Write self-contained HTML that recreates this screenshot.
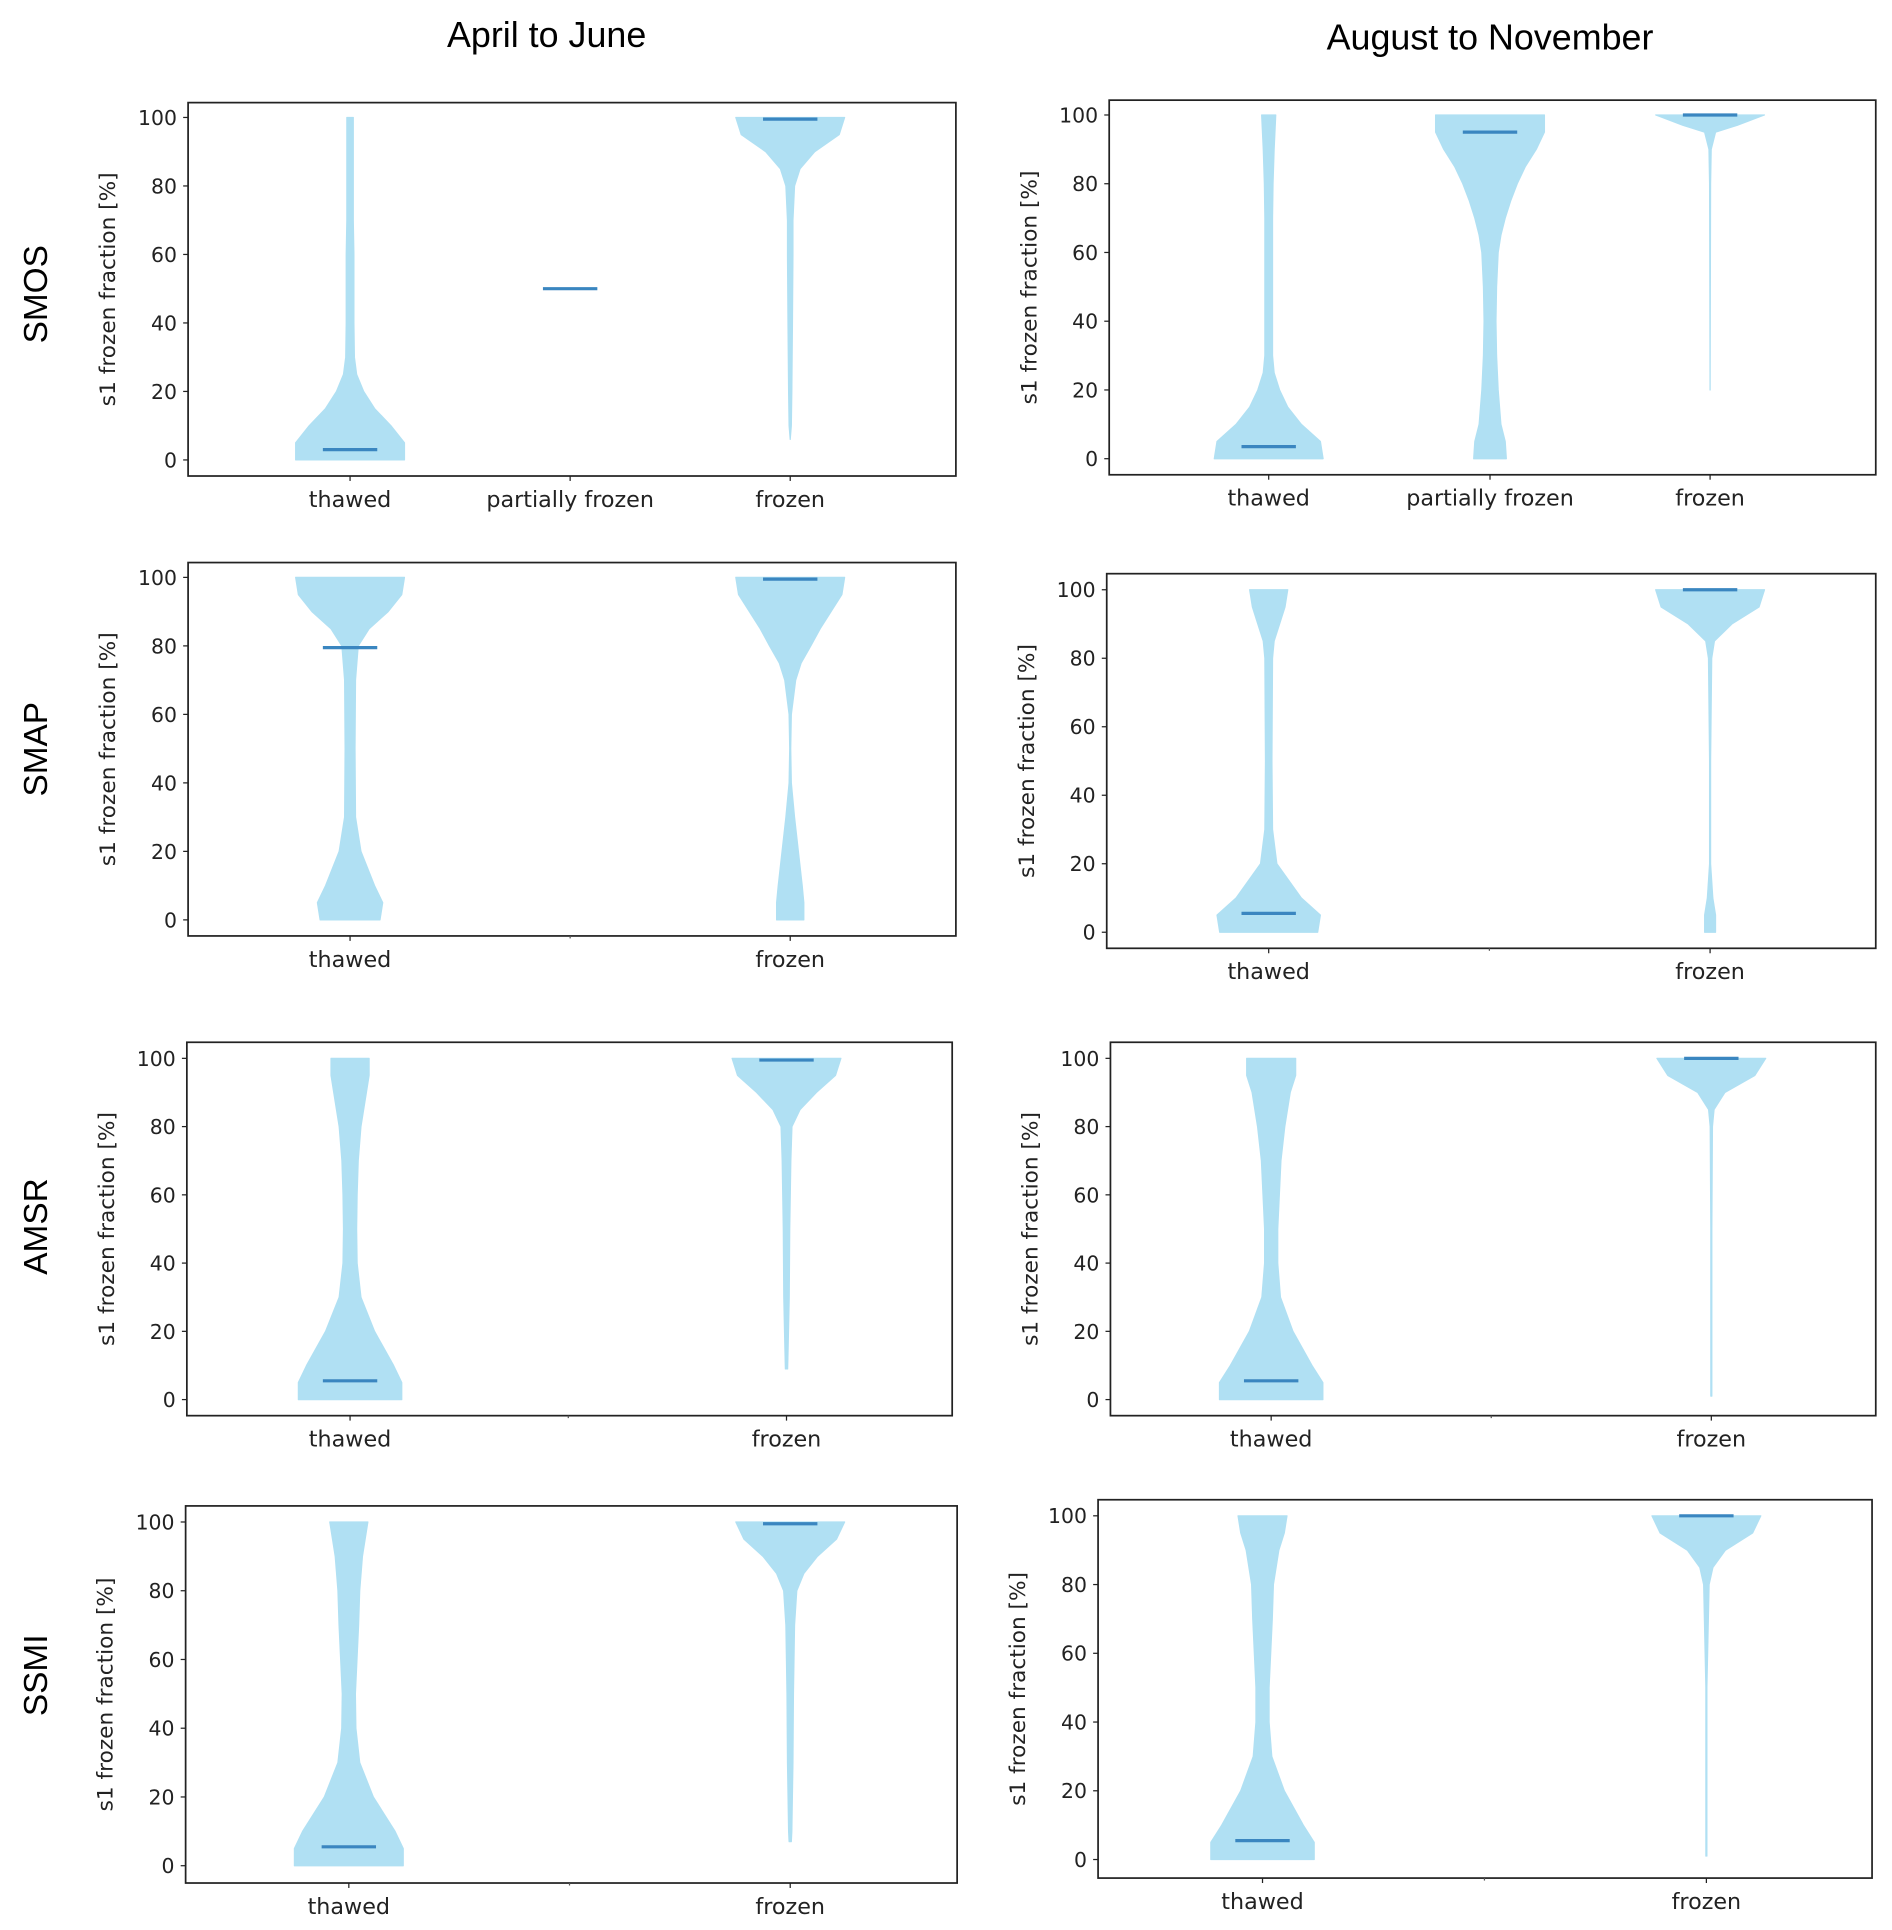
<!DOCTYPE html>
<html><head><meta charset="utf-8">
<style>
html,body{margin:0;padding:0;background:#fff;}
svg{display:block;font-family:"DejaVu Sans","Liberation Sans",sans-serif;}
.big{font-family:"Liberation Sans","DejaVu Sans",sans-serif;}
</style></head>
<body>
<svg id="chart" width="1892" height="1930" viewBox="0 0 1530 1561" xmlns="http://www.w3.org/2000/svg">
<text class="big" x="442" y="38" font-size="29" text-anchor="middle" fill="#000">April to June</text>
<text class="big" x="1205" y="40" font-size="29" text-anchor="middle" fill="#000">August to November</text>
<text class="big" transform="translate(38,238) rotate(-90)" font-size="27" text-anchor="middle">SMOS</text>
<text class="big" transform="translate(38,606) rotate(-90)" font-size="27" text-anchor="middle">SMAP</text>
<text class="big" transform="translate(38,992) rotate(-90)" font-size="27" text-anchor="middle">AMSR</text>
<text class="big" transform="translate(38,1355) rotate(-90)" font-size="27" text-anchor="middle">SSMI</text>
</svg>
<script>
// ---- data ----
const yTicks = [0, 20, 40, 60, 80, 100];
const catsThree = ["thawed", "partially frozen", "frozen"];
const catsTwo = ["thawed", "frozen"];

const smosAprThawedV = [0,5,10,15,20,25,30,40,50,60,70,80,90,100];
const smosAprThawedW = [1,1,0.75,0.45,0.25,0.12,0.08,0.07,0.07,0.07,0.06,0.06,0.06,0.06];
const smosAprFrozenV = [6,10,20,40,60,70,80,85,90,95,100];
const smosAprFrozenW = [0,0.02,0.03,0.04,0.05,0.05,0.08,0.18,0.45,0.9,1];
const smosAprMedians = [3, 50, 99.5];

const smosAugThawedV = [0,5,10,15,20,25,30,40,50,60,70,80,90,100];
const smosAugThawedW = [1,0.95,0.6,0.35,0.2,0.1,0.07,0.07,0.07,0.07,0.07,0.08,0.1,0.13];
const smosAugPartialV = [0,5,10,20,30,40,50,60,65,70,75,80,85,90,95,100];
const smosAugPartialW = [0.3,0.28,0.2,0.15,0.12,0.11,0.12,0.15,0.2,0.28,0.38,0.5,0.65,0.85,1,1];
const smosAugFrozenV = [20,50,80,90,95,97,100];
const smosAugFrozenW = [0,0.005,0.01,0.02,0.1,0.5,1];
const smosAugMedians = [3.5, 95, 100];

const smapAprThawedV = [0,5,10,20,30,50,70,80,85,90,95,100];
const smapAprThawedW = [0.55,0.6,0.45,0.2,0.1,0.09,0.1,0.15,0.35,0.7,0.95,1];
const smapAprFrozenV = [0,5,10,20,30,40,50,60,70,75,80,85,90,95,100];
const smapAprFrozenW = [0.25,0.25,0.22,0.15,0.08,0.02,0.01,0.02,0.1,0.2,0.38,0.55,0.75,0.95,1];
const smapAprMedians = [79.5, 99.5];

const smapAugThawedV = [0,5,10,20,30,50,80,85,90,95,100];
const smapAugThawedW = [0.9,0.95,0.6,0.15,0.07,0.06,0.07,0.1,0.2,0.3,0.35];
const smapAugFrozenV = [0,5,10,20,50,80,85,90,95,100];
const smapAugFrozenW = [0.1,0.1,0.05,0.01,0.01,0.03,0.08,0.4,0.9,1];
const smapAugMedians = [5.5, 100];

const amsrAprThawedV = [0,5,10,20,30,40,50,60,70,80,90,95,100];
const amsrAprThawedW = [0.95,0.95,0.8,0.45,0.2,0.13,0.12,0.13,0.15,0.2,0.3,0.35,0.35];
const amsrAprFrozenV = [9,15,30,50,70,80,85,90,95,100];
const amsrAprFrozenW = [0.02,0.03,0.05,0.06,0.08,0.1,0.25,0.55,0.9,1];
const amsrAprMedians = [5.5, 99.5];

const amsrAugThawedV = [0,5,10,20,30,40,50,60,70,80,90,95,100];
const amsrAugThawedW = [0.95,0.95,0.75,0.4,0.17,0.12,0.12,0.15,0.18,0.25,0.35,0.45,0.45];
const amsrAugFrozenV = [1,50,80,85,90,95,100];
const amsrAugFrozenW = [0.01,0.01,0.02,0.05,0.25,0.8,1];
const amsrAugMedians = [5.5, 100];

const ssmiAprThawedV = [0,5,10,20,30,40,50,60,70,80,90,95,100];
const ssmiAprThawedW = [1,1,0.85,0.45,0.2,0.13,0.12,0.15,0.18,0.2,0.25,0.3,0.35];
const ssmiAprFrozenV = [7,10,30,50,70,80,85,90,95,100];
const ssmiAprFrozenW = [0.02,0.03,0.05,0.06,0.08,0.12,0.25,0.5,0.85,1];
const ssmiAprMedians = [5.5, 99.5];

const ssmiAugThawedV = [0,5,10,20,30,40,50,60,70,80,90,95,100];
const ssmiAugThawedW = [0.95,0.95,0.75,0.4,0.17,0.12,0.12,0.15,0.18,0.2,0.3,0.4,0.45];
const ssmiAugFrozenV = [1,50,80,85,90,95,100];
const ssmiAugFrozenW = [0.01,0.01,0.05,0.12,0.35,0.85,1];
const ssmiAugMedians = [5.5, 100];

// ---- layout (positions only) ----
const panels = [
 {name:"smos-april-june", l:152,r:773,t:83,b:385,y100:95,y0:372,xs:[283,461,639],cats:catsThree,
  violins:[[smosAprThawedV,smosAprThawedW],null,[smosAprFrozenV,smosAprFrozenW]],med:smosAprMedians},
 {name:"smos-aug-nov", l:897,r:1517,t:81,b:384,y100:93,y0:371,xs:[1026,1205,1383],cats:catsThree,
  violins:[[smosAugThawedV,smosAugThawedW],[smosAugPartialV,smosAugPartialW],[smosAugFrozenV,smosAugFrozenW]],med:smosAugMedians},
 {name:"smap-april-june", l:152,r:773,t:455,b:757,y100:467,y0:744,xs:[283,639],cats:catsTwo,
  violins:[[smapAprThawedV,smapAprThawedW],[smapAprFrozenV,smapAprFrozenW]],med:smapAprMedians},
 {name:"smap-aug-nov", l:895,r:1517,t:464,b:767,y100:477,y0:754,xs:[1026,1383],cats:catsTwo,
  violins:[[smapAugThawedV,smapAugThawedW],[smapAugFrozenV,smapAugFrozenW]],med:smapAugMedians},
 {name:"amsr-april-june", l:151,r:770,t:843,b:1145,y100:856,y0:1132,xs:[283,636],cats:catsTwo,
  violins:[[amsrAprThawedV,amsrAprThawedW],[amsrAprFrozenV,amsrAprFrozenW]],med:amsrAprMedians},
 {name:"amsr-aug-nov", l:898,r:1517,t:843,b:1145,y100:856,y0:1132,xs:[1028,1384],cats:catsTwo,
  violins:[[amsrAugThawedV,amsrAugThawedW],[amsrAugFrozenV,amsrAugFrozenW]],med:amsrAugMedians},
 {name:"ssmi-april-june", l:150,r:774,t:1218,b:1523,y100:1231,y0:1509,xs:[282,639],cats:catsTwo,
  violins:[[ssmiAprThawedV,ssmiAprThawedW],[ssmiAprFrozenV,ssmiAprFrozenW]],med:ssmiAprMedians},
 {name:"ssmi-aug-nov", l:888,r:1514,t:1213,b:1519,y100:1226,y0:1504,xs:[1021,1380],cats:catsTwo,
  violins:[[ssmiAugThawedV,ssmiAugThawedW],[ssmiAugFrozenV,ssmiAugFrozenW]],med:ssmiAugMedians}
];
const NS = "http://www.w3.org/2000/svg";
const svg = document.getElementById("chart");
const HALF = 44, MEDHALF = 22;
function mk(tag, attrs, parent){ const e=document.createElementNS(NS,tag); for(const k in attrs) e.setAttribute(k,attrs[k]); parent.appendChild(e); return e; }

panels.forEach(p=>{
  const g = mk("g",{},svg);
  
  
  const yScale = v => p.y0 + (p.y100 - p.y0) * v / 100;
  p.violins.forEach((vw,i)=>{
    if(!vw) return;
    const [vals, ws] = vw, cx = p.xs[i];
    let d = "";
    for(let k=0;k<vals.length;k++) d += (k?"L":"M") + (cx - ws[k]*HALF).toFixed(1) + "," + yScale(vals[k]).toFixed(1);
    for(let k=vals.length-1;k>=0;k--) d += "L" + (cx + ws[k]*HALF).toFixed(1) + "," + yScale(vals[k]).toFixed(1);
    d += "Z";
    const path = mk("path",{d:d, fill:"#b0e0f3", stroke:"#b0e0f3", "stroke-width":1, "stroke-linejoin":"round"}, g);
    
    
  });
  p.med.forEach((m,i)=>{
    const y = yScale(m);
    const ln = mk("line",{x1:p.xs[i]-MEDHALF,x2:p.xs[i]+MEDHALF,y1:y,y2:y,stroke:"#3a86c0","stroke-width":2.6}, g);
    
    
  });
  const fr = mk("rect",{x:p.l,y:p.t,width:p.r-p.l,height:p.b-p.t,fill:"none",stroke:"#222","stroke-width":1.4}, g);
  
  
  yTicks.forEach(t=>{
    const y = yScale(t);
    mk("line",{x1:p.l-4,x2:p.l,y1:y,y2:y,stroke:"#222","stroke-width":1}, g);
    const tx = mk("text",{x:p.l-9,y:y+6,"font-size":16.5,"text-anchor":"end",fill:"#222"}, g);
    tx.textContent = t;
    
    
  });
  p.cats.forEach((c,i)=>{
    const x = p.xs[i];
    mk("line",{x1:x,x2:x,y1:p.b,y2:p.b+4,stroke:"#222","stroke-width":1}, g);
    const tx = mk("text",{x:x,y:p.b+25,"font-size":18,"text-anchor":"middle",fill:"#222"}, g);
    tx.textContent = c;
    
    
  });
  if(p.cats.length===2){
    const mx=(p.xs[0]+p.xs[1])/2;
    mk("line",{x1:mx,x2:mx,y1:p.b,y2:p.b+2,stroke:"#555","stroke-width":1}, g);
  }
  const yl = mk("text",{transform:`translate(${p.l-59},${(p.t+p.b)/2}) rotate(-90)`,"font-size":17.5,"text-anchor":"middle",fill:"#222"}, g);
  yl.textContent = "s1 frozen fraction [%]";
  
  
});
</script>
</body></html>
